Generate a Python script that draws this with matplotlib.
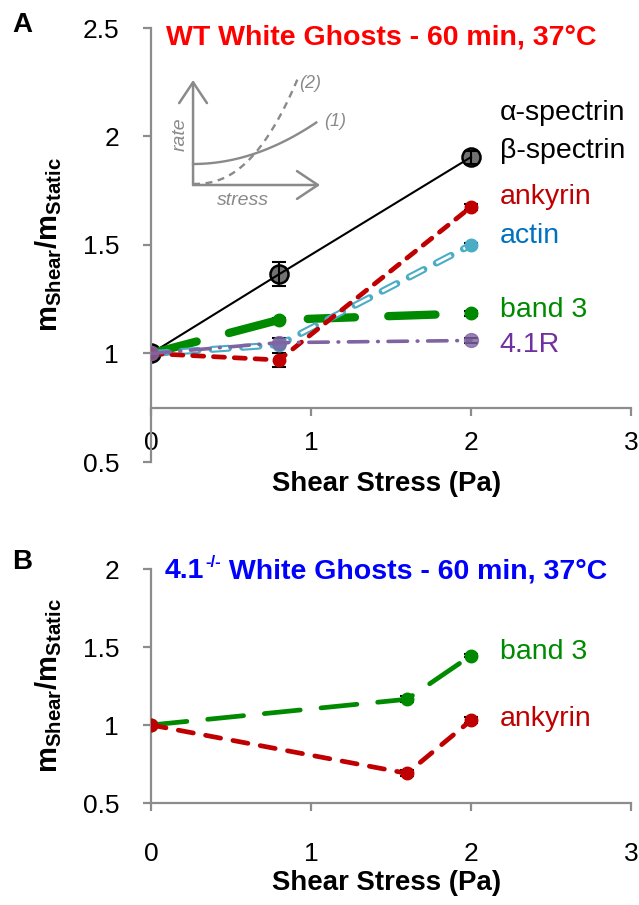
import matplotlib
matplotlib.use("Agg")
import matplotlib.pyplot as plt
import numpy as np

plt.rcParams['font.family'] = ['Liberation Sans', 'DejaVu Sans']
plt.rcParams['lines.scale_dashes'] = False
plt.rcParams['mathtext.fontset'] = 'custom'
plt.rcParams['mathtext.rm'] = 'Liberation Sans'
plt.rcParams['mathtext.bf'] = 'Liberation Sans:bold'
plt.rcParams['mathtext.it'] = 'Liberation Sans:italic'

# ---------------- data ----------------
# Panel A (WT)
xA = [0, 0.8, 2]
spectrin_A = [1.0, 1.365, 1.905]
spectrin_A_err = [0.0, 0.055, 0.03]
ankyrin_A = [1.0, 0.97, 1.675]
ankyrin_A_err = [0.0, 0.03, 0.015]
actin_A = [1.0, 1.04, 1.50]
actin_A_err = [0.0, 0.01, 0.01]
band3_A = [1.0, 1.155, 1.185]
band3_A_err = [0.0, 0.01, 0.01]
r41_A = [1.0, 1.05, 1.06]
r41_A_err = [0.0, 0.02, 0.01]

# Panel B (4.1-/-)
xB = [0, 1.6, 2]
band3_B = [1.0, 1.165, 1.445]
band3_B_err = [0.01, 0.02, 0.01]
ankyrin_B = [1.0, 0.69, 1.03]
ankyrin_B_err = [0.01, 0.02, 0.02]

xticks = [0, 1, 2, 3]
yticks_A = [0.5, 1, 1.5, 2, 2.5]
yticks_B = [0.5, 1, 1.5, 2]

labels_A = [("α-spectrin", 2.107, 'black'), ("β-spectrin", 1.935, 'black'),
            ("ankyrin", 1.72, '#C00000'), ("actin", 1.54, '#0070C0'),
            ("band 3", 1.20, '#008A00'), ("4.1R", 1.04, '#7030A0')]
labels_B = [("band 3", 1.468, '#008A00'), ("ankyrin", 1.04, '#C00000')]

# inset schematic
sx = np.linspace(0, 0.97, 50)
s1 = 0.2 + 0.42 * sx ** 2
sx2 = np.linspace(0, 0.83, 50)
s2 = 0.01 + 1.58 * sx2 ** 2.35

# ---------------- style ----------------
RED = '#C00000'
GREEN = '#008A00'
BLUE = '#4BACC6'
PURPLE = '#8064A2'
GRAY = '#8C8C8C'
FS = 19
LFS = 20.5

W, H = 639, 905
fig = plt.figure(figsize=(W / 100, H / 100), dpi=100)
axA = fig.add_axes([151 / W, 1 - 462 / H, 480 / W, 434 / H])
axB = fig.add_axes([151 / W, 1 - 803 / H, 480 / W, 234 / H])


def style_axes(ax, ylim, yticks, xpos, xpad):
    ax.set_xlim(0, 3)
    ax.set_ylim(*ylim)
    ax.set_xticks(xticks)
    ax.set_yticks(yticks)
    ax.set_yticklabels([f"{t:g}" for t in yticks])
    for s in ['top', 'right']:
        ax.spines[s].set_visible(False)
    for s in ['left', 'bottom']:
        ax.spines[s].set_color(GRAY)
        ax.spines[s].set_linewidth(1.6)
    ax.spines['bottom'].set_position(('data', xpos))
    ax.tick_params(axis='both', colors=GRAY, labelcolor='black', length=6,
                   width=1.6, labelsize=FS)
    ax.tick_params(axis='y', pad=17)
    ax.tick_params(axis='x', pad=xpad)
    ax.patch.set_alpha(0)


style_axes(axA, (0.5, 2.5), yticks_A, 0.75, 11)
style_axes(axB, (0.5, 2.0), yticks_B, 0.5, 22)

EB = dict(fmt='none', ecolor='black', elinewidth=1.5, capsize=5, capthick=1.5,
          zorder=4)

# ---------------- Panel A ----------------
# spectrin
axA.plot(xA, spectrin_A, color='black', lw=1.5, zorder=3)
axA.plot(xA, spectrin_A, ls='none', marker='o', ms=13,
         mfc=(0.35, 0.35, 0.35, 0.85), mec='black', mew=1.8, zorder=2)
axA.errorbar(xA, spectrin_A, yerr=spectrin_A_err, **EB)

# band 3
axA.plot(xA, band3_A, color=GREEN, lw=6, dashes=(34, 24),
         dash_capstyle='round', zorder=5)
axA.plot(xA, band3_A, ls='none', marker='o', ms=9, color=GREEN, zorder=6)
axA.errorbar(xA, band3_A, yerr=band3_A_err, **EB)

# actin (hollow dashes)
axA.plot(xA, actin_A, color=BLUE, lw=5, dashes=(12, 10),
         dash_capstyle='round', zorder=7)
axA.plot(xA, actin_A, color='white', lw=2.0, dashes=(12, 10),
         dash_capstyle='butt', zorder=7.1)
axA.plot(xA, actin_A, ls='none', marker='o', ms=9, color=BLUE, zorder=7.2)
axA.errorbar(xA, actin_A, yerr=actin_A_err, **EB)

# ankyrin
axA.plot(xA, ankyrin_A, color=RED, lw=3.4, dashes=(8, 7),
         dash_capstyle='round', zorder=8)
axA.plot(xA, ankyrin_A, ls='none', marker='o', ms=9, color=RED, zorder=8.1)
axA.errorbar(xA, ankyrin_A, yerr=ankyrin_A_err, **EB)

# 4.1R
axA.plot(xA, r41_A, color=PURPLE, lw=2.6, dashes=(14, 7, 0.5, 7),
         dash_capstyle='round', zorder=9)
axA.plot(xA, r41_A, ls='none', marker='o', ms=10, color=PURPLE, alpha=0.8,
         zorder=9.1)
axA.errorbar(xA, r41_A, yerr=r41_A_err, **EB)

for txt, y, c in labels_A:
    axA.text(2.18, y, txt, color=c, fontsize=LFS, va='center', ha='left')

axA.text(0.094, 2.455, "WT White Ghosts - 60 min, 37°C", color='#FF0000',
         fontsize=20.5, fontweight='bold', va='center', ha='left')

# ---------------- Panel B ----------------
axB.plot(xB, band3_B, color=GREEN, lw=3.4, dashes=(26, 15),
         dash_capstyle='round', zorder=5)
axB.plot(xB, band3_B, ls='none', marker='o', ms=9, color=GREEN, zorder=6)
axB.errorbar(xB, band3_B, yerr=band3_B_err, **EB)

axB.plot(xB, ankyrin_B, color=RED, lw=3.4, dashes=(11, 9),
         dash_capstyle='round', zorder=7)
axB.plot(xB, ankyrin_B, ls='none', marker='o', ms=9, color=RED, zorder=8)
axB.errorbar(xB, ankyrin_B, yerr=ankyrin_B_err, **EB)

for txt, y, c in labels_B:
    axB.text(2.18, y, txt, color=c, fontsize=LFS, va='center', ha='left')

tb1 = axB.text(0.0875, 1.987, "4.1", color='#0000FF', fontsize=20.5,
               fontweight='bold', va='center', ha='left')
tb2 = axB.annotate("-/-", xy=(1, 1), xycoords=tb1, xytext=(0.5, 2),
                   textcoords='offset points', color='#0000FF', fontsize=12,
                   fontweight='bold', va='top', ha='left')
tb3 = axB.annotate(" White Ghosts - 60 min, 37°C", xy=(1, 0),
                   xycoords=(tb2, tb1), color='#0000FF', fontsize=20.5,
                   fontweight='bold', va='bottom', ha='left')

# ---------------- axis labels ----------------
ylab = r"m$_{\mathbf{Shear}}$/m$_{\mathbf{Static}}$"
for ax, xly in [(axA, -0.0507), (axB, -0.342)]:
    ax.set_xlabel("Shear Stress (Pa)", fontsize=19.9, fontweight='bold',
                  va='center')
    ax.xaxis.set_label_coords(0.49, xly)
    ax.set_ylabel(ylab, fontsize=21, fontweight='bold', va='center')
    ax.yaxis.set_label_coords(-0.2125, 0.5)

fig.text(22 / W, 1 - 25 / H, "A", fontsize=20, fontweight='bold',
         ha='center', va='center')
fig.text(22 / W, 1 - 562 / H, "B", fontsize=20, fontweight='bold',
         ha='center', va='center')

# ---------------- inset schematic ----------------
axI = fig.add_axes([174 / W, 1 - 211.25 / H, 171.5 / W, 147 / H])
axI.set_xlim(-0.15, 1.2)
axI.set_ylim(-0.25, 1.15)
axI.axis('off')
IG = '#8A8A8A'
ap = dict(arrowstyle='->,head_length=0.75,head_width=0.5', color=IG, lw=1.8,
          mutation_scale=20, shrinkA=0, shrinkB=0)
axI.annotate('', xy=(0, 1.0), xytext=(0, 0), arrowprops=ap)
axI.annotate('', xy=(1.0, 0), xytext=(0, 0), arrowprops=ap)
axI.plot(sx, s1, color=IG, lw=1.7)
axI.plot(sx2, s2, color=IG, lw=1.7, dashes=(5, 4))
axI.text(-0.1, 0.48, "rate", rotation=90, color=IG, fontsize=14,
         style='italic', ha='center', va='center')
axI.text(0.39, -0.15, "stress", color=IG, fontsize=14, style='italic',
         ha='center', va='center')
axI.text(0.92, 0.97, "(2)", color=IG, fontsize=13, style='italic',
         ha='center', va='center')
axI.text(1.03, 0.6, "(1)", color=IG, fontsize=13, style='italic',
         ha='left', va='center')

fig.savefig("out.png", dpi=100)
